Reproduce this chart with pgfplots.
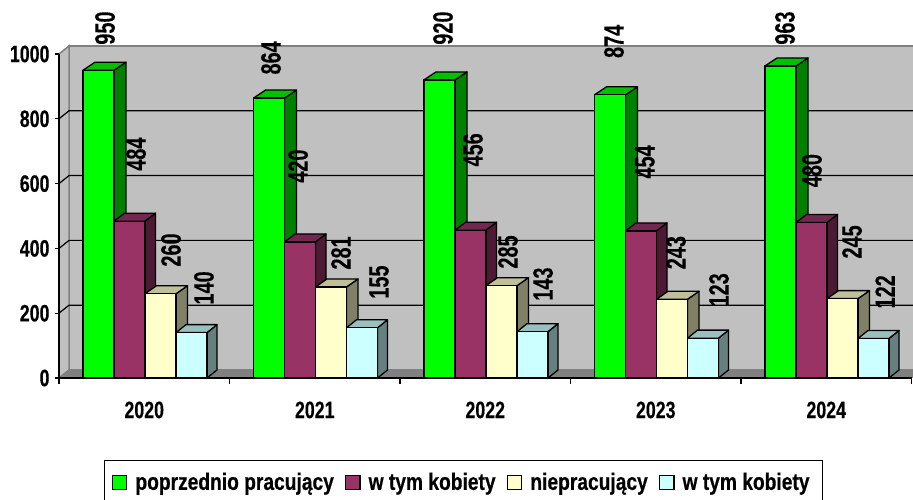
\documentclass[border=0pt]{standalone}
\usepackage{fontspec}
\setmainfont{Liberation Sans}[FakeStretch=0.75,BoldFeatures={FakeBold=0.4}]
\newfontfamily\lblfont{Liberation Sans}[FakeStretch=0.71,BoldFeatures={FakeBold=0.1}]
\newfontfamily\legfont{Liberation Sans}[FakeStretch=0.81,BoldFeatures={FakeBold=0.5}]
\usepackage{pgfplots}
\pgfplotsset{compat=1.18}

% front, side and top colours of the bars
\definecolor{aF}{HTML}{00FF00}\definecolor{aS}{HTML}{008000}\definecolor{aT}{HTML}{00C000}
\definecolor{bF}{HTML}{993366}\definecolor{bS}{HTML}{4D1A33}\definecolor{bT}{HTML}{732650}
\definecolor{cF}{HTML}{FFFFCC}\definecolor{cS}{HTML}{808066}\definecolor{cT}{HTML}{BFBF99}
\definecolor{dF}{HTML}{CCFFFF}\definecolor{dS}{HTML}{668080}\definecolor{dT}{HTML}{99BFBF}
\definecolor{wall}{HTML}{C0C0C0}
\definecolor{wallline}{HTML}{808080}

\pgfmathsetmacro\dy{24.7}   % depth of the 3D box in y units (8 px)

% side and top face of one bar: name, shift (pt), depth (pt), category, value
\newcommand{\onebar}[5]{%
  \pgfmathsetmacro\xl{#4+(#2-15.5)/170.5}%
  \pgfmathsetmacro\xr{#4+(#2+15.5)/170.5}%
  \pgfmathsetmacro\xlb{\xl+#3/170.5}%
  \pgfmathsetmacro\xrb{\xr+#3/170.5}%
  \pgfmathsetmacro\yt{#5+\dy}%
  \edef\tmp{%
    \noexpand\addplot[forget plot,draw=black,fill=#1S,line width=1.3pt,line join=round]
      coordinates {(\xr,0) (\xrb,\dy) (\xrb,\yt) (\xr,#5) (\xr,0)};
    \noexpand\addplot[forget plot,draw=black,fill=#1T,line width=1.3pt,line join=round]
      coordinates {(\xl,#5) (\xlb,\yt) (\xrb,\yt) (\xr,#5) (\xl,#5)};
  }\tmp}
% whole series: name, shift, depth, five values
\newcommand{\series}[8]{%
  \onebar{#1}{#2}{#3}{0}{#4}\onebar{#1}{#2}{#3}{1}{#5}\onebar{#1}{#2}{#3}{2}{#6}%
  \onebar{#1}{#2}{#3}{3}{#7}\onebar{#1}{#2}{#3}{4}{#8}%
  \addplot[ybar,bar width=31pt,bar shift=#2pt,draw=black,fill=#1F,line width=1.3pt]
    coordinates {(0,#4) (1,#5) (2,#6) (3,#7) (4,#8)};
}
\newcommand{\gridl}[1]{%
  \pgfmathsetmacro\yt{#1+\dy}%
  \edef\tmp{\noexpand\addplot[forget plot,black,line width=1.2pt]
    coordinates {(-0.5,#1) (-0.4413,\yt) (4.5587,\yt)};}\tmp}

\begin{document}
\begin{tikzpicture}
\useasboundingbox (0,0) rectangle (913pt,499pt);
\clip (0,0) rectangle (913pt,499pt);
\begin{axis}[
  at={(59pt,121pt)}, anchor=south west,
  scale only axis, width=852.5pt, height=324pt,
  clip=false, axis on top,
  xmin=-0.5, xmax=4.5, ymin=0, ymax=1000,
  axis x line*=bottom, axis y line*=left,
  axis line style={black,line width=1.3pt},
  tick align=outside,
  xtick={0,1,2,3,4},
  xticklabels={2020,2021,2022,2023,2024},
  minor xtick={-0.5,0.5,1.5,2.5,3.5,4.5},
  major x tick style={draw=none},
  minor x tick style={black,line width=1.2pt},
  minor tick length=5.5pt,
  ytick={0,200,400,600,800,1000},
  ytick style={black,line width=1.2pt},
  major tick length=4pt,
  /pgf/number format/assume math mode=true,
  /pgf/number format/1000 sep={},
  ticklabel style={font=\bfseries\fontsize{23.7}{24}\selectfont},
  yticklabel style={xshift=-2pt},
  xticklabel style={yshift=-16pt},
  legend columns=4,
  legend cell align=left,
  legend image code/.code={\draw[#1,line width=1.3pt] (0pt,-2pt) rectangle (14.5pt,12pt);},
  legend style={
    at={(axis description cs:0.0528,-0.2531)}, anchor=north west,
    draw=black, line width=1.3pt, fill=white,
    font=\legfont\bfseries\fontsize{23.7}{24}\selectfont,
    inner xsep=7pt, inner ysep=10pt,
    nodes={text depth=12pt},
    /tikz/every odd column/.append style={column sep=6pt},
    /tikz/every even column/.append style={column sep=9pt},
  },
]
% walls and floor
\addplot[forget plot,fill=wall,draw=wallline,line width=1.5pt]
  coordinates {(-0.4413,24.7) (-0.4413,1024.7) (4.5587,1024.7) (4.5587,24.7) (-0.4413,24.7)};
\addplot[forget plot,fill=wall,draw=wallline,line width=1.5pt]
  coordinates {(-0.5,0) (-0.5,1000) (-0.4413,1024.7) (-0.4413,24.7) (-0.5,0)};
\addplot[forget plot,fill=wallline,draw=wallline,line width=1pt]
  coordinates {(-0.5,0) (-0.4413,24.7) (4.5587,24.7) (4.5,0) (-0.5,0)};
\gridl{200}\gridl{400}\gridl{600}\gridl{800}

% bars
\series{a}{-45.75}{12}{950}{864}{920}{874}{963}
\series{b}{-14.75}{10.5}{484}{420}{456}{454}{480}
\series{c}{16.25}{11.5}{260}{281}{285}{243}{245}
\series{d}{47.25}{10}{140}{155}{143}{123}{122}

% value labels, placed where the reference has them
\addplot[forget plot,draw=none,point meta=explicit symbolic,nodes near coords,
  nodes near coords style={rotate=90,anchor=center,inner sep=0pt,text=black,
    font=\lblfont\bfseries\fontsize{28}{28}\selectfont}]
  coordinates {
    (-0.230,1080)[950] (-0.048,691)[484] (0.157,395)[260] (0.350,278)[140]
    (0.743,988)[864] (0.902,654)[420] (1.154,386)[281] (1.377,296)[155]
    (1.752,1080)[920] (1.928,704)[456] (2.133,389)[285] (2.339,290)[143]
    (2.755,1039)[874] (2.937,667)[454] (3.119,387)[243] (3.371,272)[123]
    (3.758,1080)[963] (3.916,640)[480] (4.151,420)[245] (4.345,266)[122]
  };
\legend{poprzednio pracujący,w tym kobiety,niepracujący,w tym kobiety\hspace*{4pt}}
\end{axis}
\end{tikzpicture}
\end{document}
